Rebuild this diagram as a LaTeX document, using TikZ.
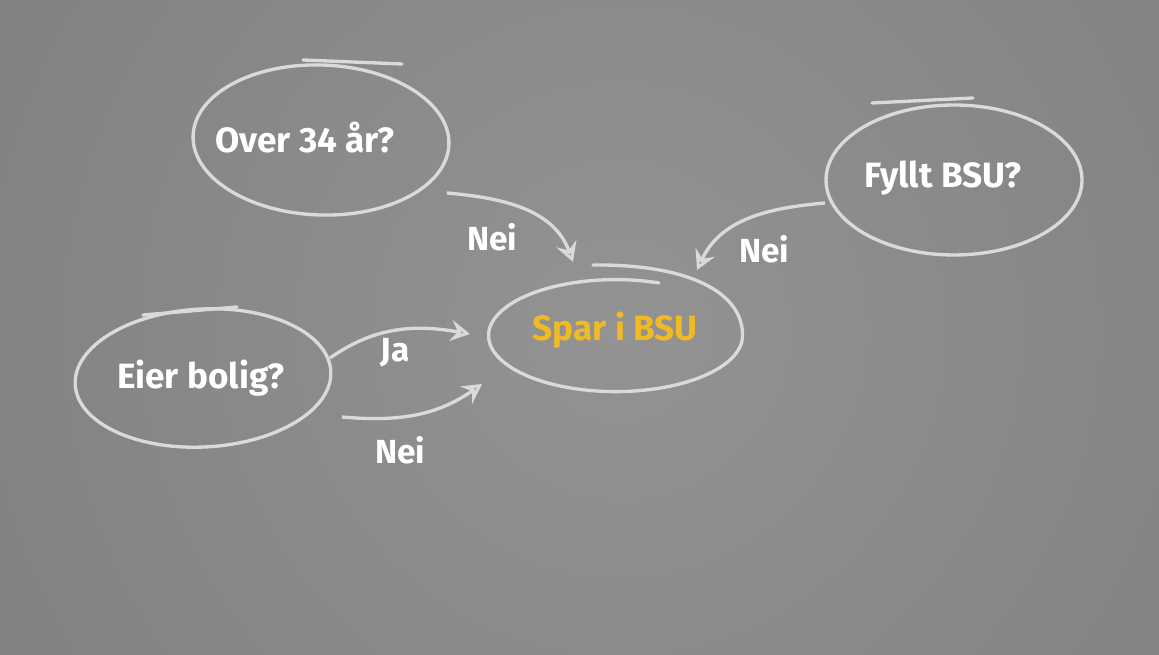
\documentclass[tikz,border=0pt]{standalone}
\usepackage{fontspec}
\setmainfont{Fira Sans}
\usetikzlibrary{shapes.geometric,arrows.meta,calc}
\definecolor{chalk}{RGB}{218,218,218}
\definecolor{bginner}{RGB}{147,147,147}
\definecolor{bgouter}{RGB}{116,116,116}
\definecolor{sparcol}{RGB}{240,186,35}
\begin{document}
\begin{tikzpicture}[x=0.02cm,y=0.02cm,
  bubble/.style={ellipse, draw=chalk, line width=1.9pt, inner sep=0pt},
  txt/.style={font=\bfseries\fontsize{20}{22}\selectfont, text=white, inner sep=0pt},
  lbl/.style={font=\bfseries\fontsize{19}{21}\selectfont, text=white, inner sep=0pt},
  chalkarrow/.style={draw=chalk, line width=1.9pt, -{Stealth[open, length=11pt, width=12pt, inset=4pt]}},
  tail/.style={draw=chalk, line width=1.9pt, line cap=round}]
\useasboundingbox (0,0) rectangle (1159,655);
\begin{scope}
\clip (0,0) rectangle (1159,655);
\shade[inner color=bginner, outer color=bgouter] (620,325) circle (1200);
\end{scope}
% bubbles
\node[bubble, minimum width=5.12cm, minimum height=3cm, rotate=-2] (over) at (321,515) {};
\node[bubble, minimum width=5.12cm, minimum height=3cm] (fyllt) at (954,475) {};
\node[bubble, draw=none, minimum width=5.08cm, minimum height=2.24cm] (spar) at (616,319) {};
\node[bubble, minimum width=5.12cm, minimum height=2.76cm, rotate=3] (eier) at (203,277) {};
% hand-drawn outline of the centre bubble (spiral with overshoot)
\draw[tail] ($(spar.center)+(43,53)$) arc[start angle=70, end angle=360, x radius=127, y radius=56]
  .. controls (743,362) and (690,391) .. (593,390);
% overshoot strokes
\draw[tail] (303,595) -- (402,591);
\draw[tail] (872,552) -- (973,557);
\draw[tail] (143,340) -- (237,348);
% texts
\node[txt] (overt) at (305,517) {Over 34 år?};
\node[txt] (fylltt) at (943,477) {Fyllt BSU?};
\node[txt, text=sparcol] (spart) at (615,325) {Spar i BSU};
\node[txt] (eiert) at (201,277) {Eier bolig?};
% connectors
\draw[chalkarrow] ($(over)+(126,-53)$) to[out=-5,in=110] ($(spar)+(-43,74)$);
\draw[chalkarrow] ($(fyllt)+(-129,-23)$) to[out=185,in=65] ($(spar)+(81,66)$);
\draw[chalkarrow] ($(eier)+(127,20)$) to[out=35,in=170] ($(spar)+(-146,2)$);
\draw[chalkarrow] ($(eier)+(139,-39)$) to[out=-5,in=215] ($(spar)+(-134,-48)$);
% labels
\node[lbl] (neiA) at (492,418) {Nei};
\node[lbl] (neiB) at (764,406) {Nei};
\node[lbl] (ja) at (395,302) {Ja};
\node[lbl] (neiC) at (400,205) {Nei};
\end{tikzpicture}
\end{document}
